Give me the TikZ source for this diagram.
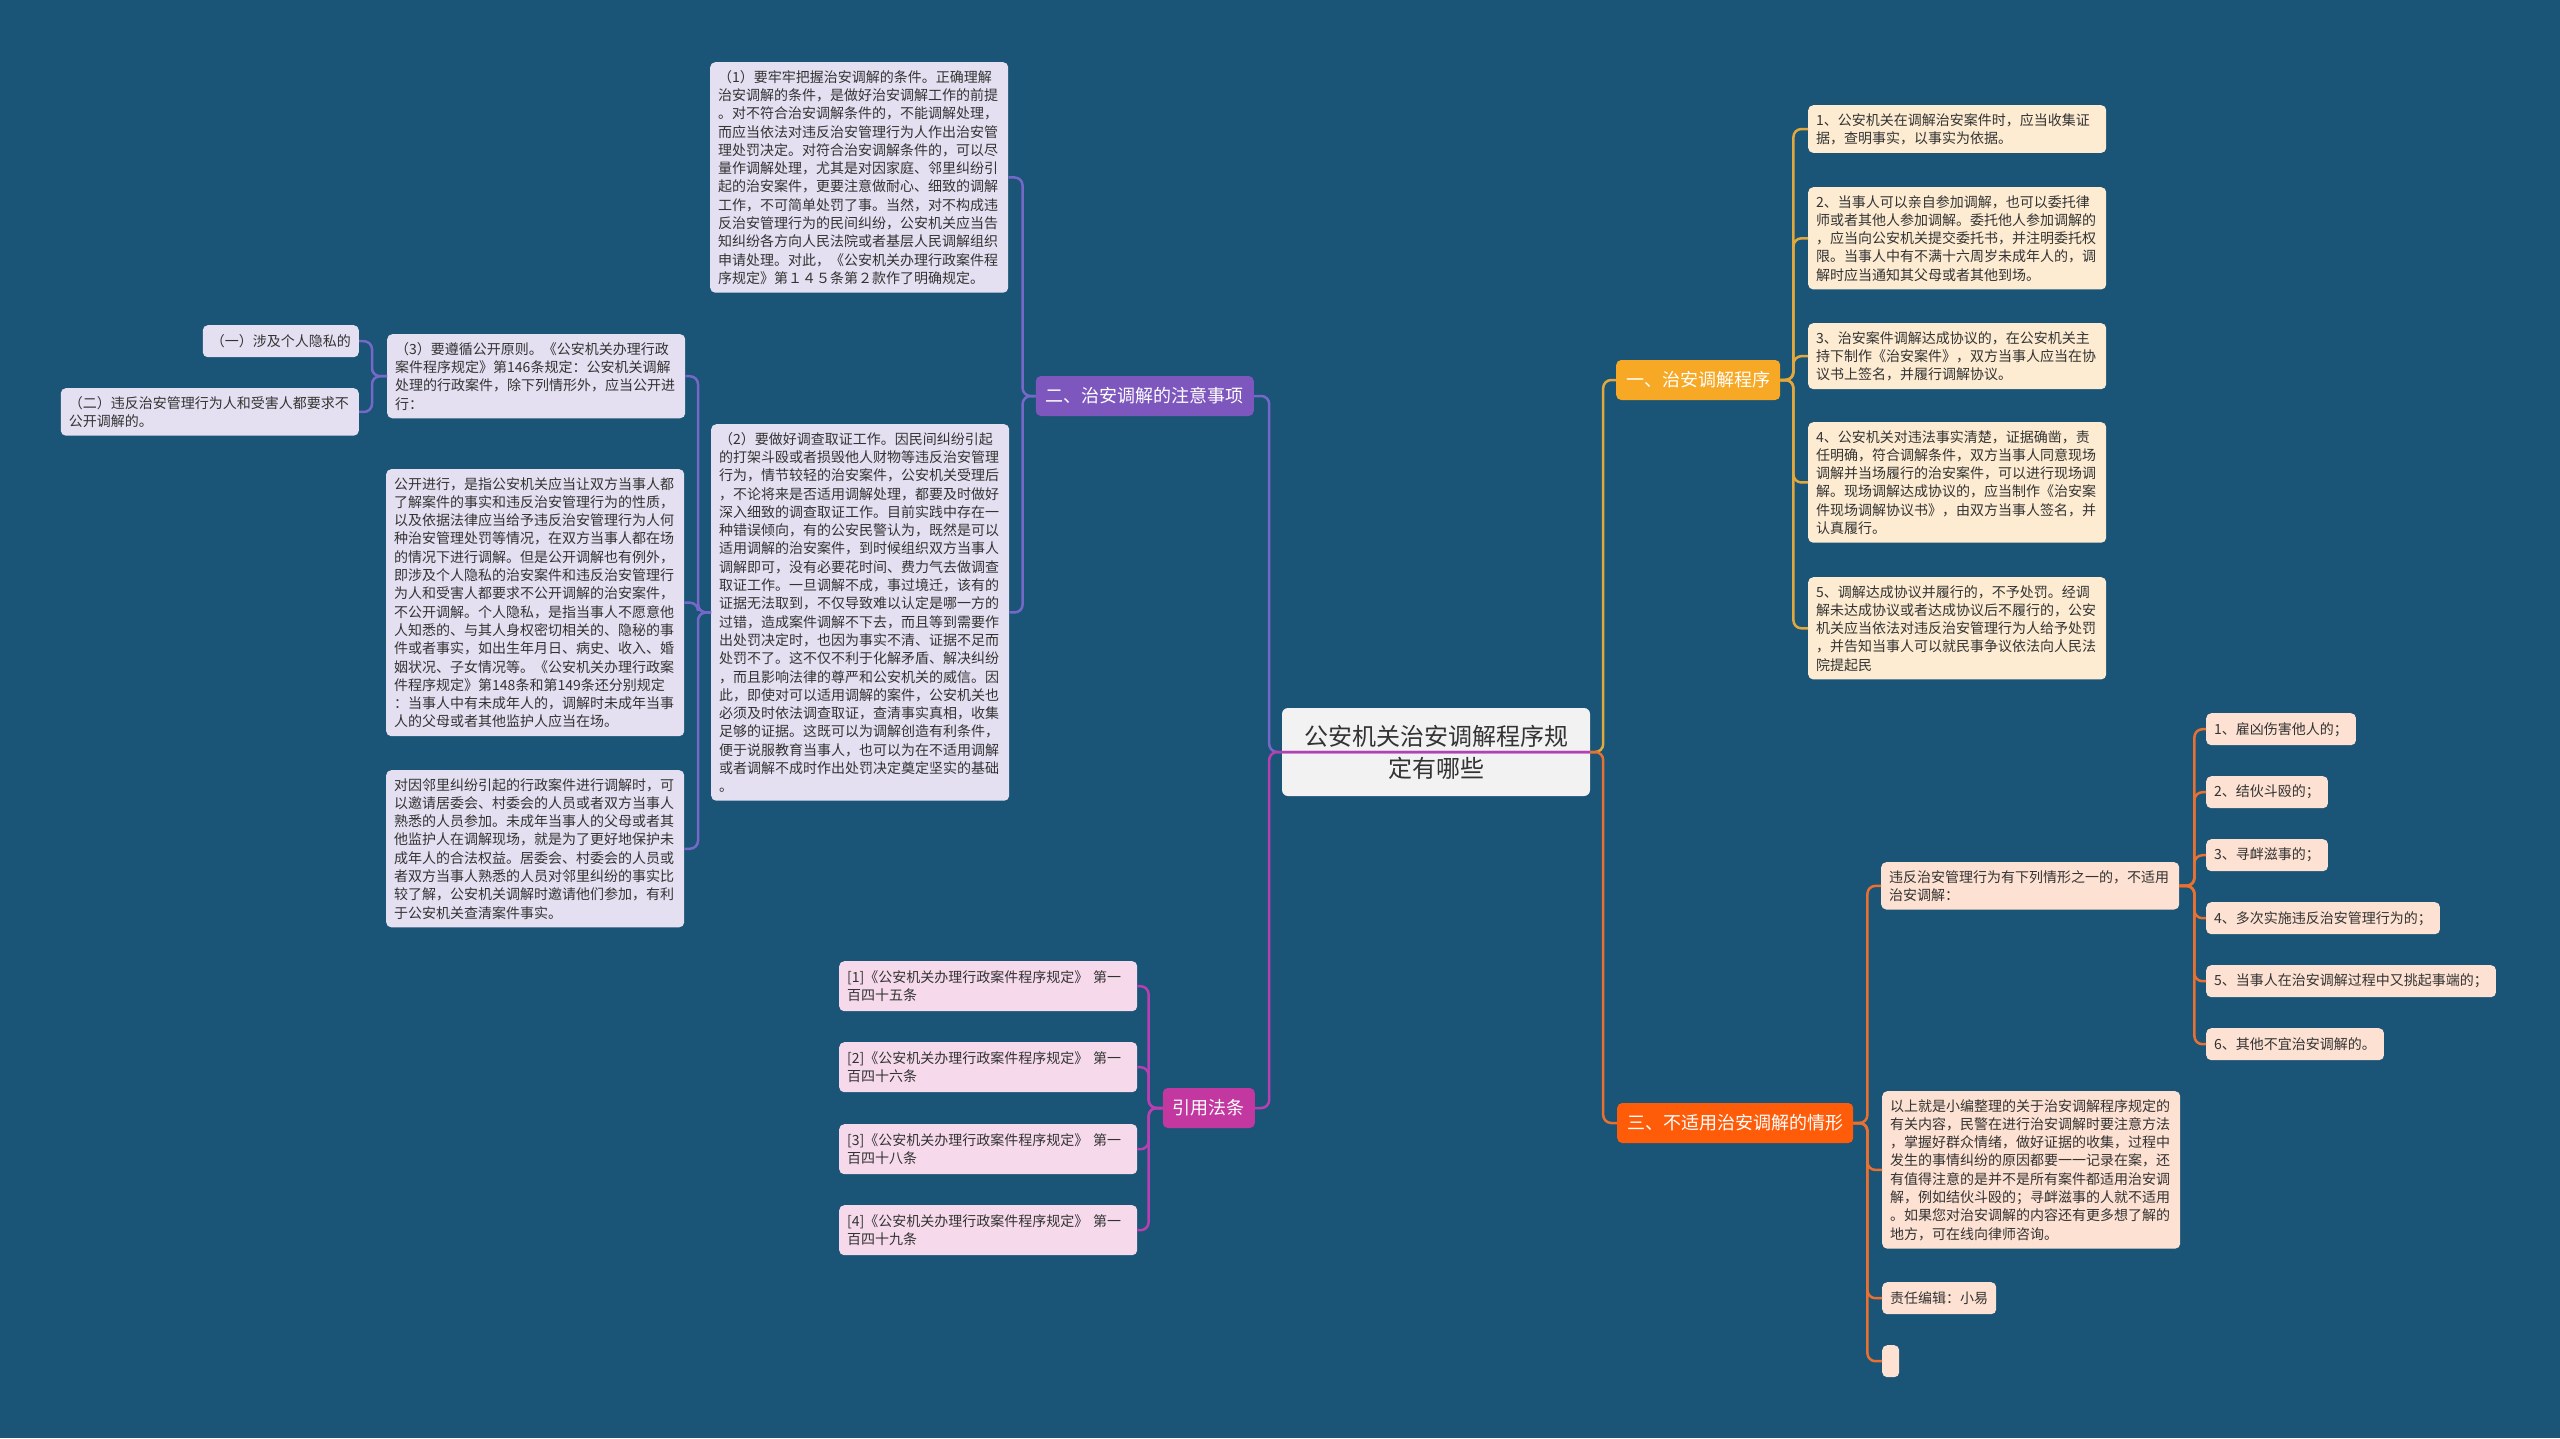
\documentclass[tikz,border=0pt]{standalone}
\usepackage{fontspec}
\usepackage{tikz}
\usetikzlibrary{positioning}
\newfontfamily\cjk{Noto Sans CJK SC}

\definecolor{bgblue}{RGB}{26,84,118}
\definecolor{purpnode}{RGB}{126,87,190}
\definecolor{purpline}{RGB}{118,104,200}
\definecolor{purpfill}{RGB}{228,224,241}
\definecolor{magnode}{RGB}{194,56,160}
\definecolor{magline}{RGB}{184,62,178}
\definecolor{magfill}{RGB}{246,218,236}
\definecolor{goldnode}{RGB}{247,168,36}
\definecolor{goldline}{RGB}{226,168,60}
\definecolor{goldfill}{RGB}{253,236,210}
\definecolor{orgnode}{RGB}{255,92,10}
\definecolor{orgline}{RGB}{232,112,48}
\definecolor{orgfill}{RGB}{253,225,210}
\definecolor{rootfill}{RGB}{242,242,242}
\definecolor{inktext}{RGB}{51,51,51}

\newcommand{\txtsize}{\fontsize{14}{18.3}\selectfont}

\begin{document}
\begin{tikzpicture}
[x=1pt,y=-1pt]

    \tikzstyle{every node}=[font=\cjk\txtsize, text=inktext]
    \tikzstyle{leaf}=[rounded corners=5pt, align=left, inner xsep=8pt,
                      inner ysep=8pt, anchor=north west]
    \tikzstyle{wide}=[leaf, text width=282pt]
    \tikzstyle{tiny}=[leaf, minimum height=32pt]
    \tikzstyle{branch}=[rounded corners=5pt, text=white, inner xsep=10pt,
                        minimum height=40pt, font=\cjk\fontsize{18}{22}\selectfont]
    \tikzstyle{link}=[line width=2.5pt, rounded corners=8pt]

    \useasboundingbox (0,0) rectangle (2560,1438);
    \fill[bgblue] (0,0) rectangle (2560,1438);

    % the middle of the map
    \node[rounded corners=6pt, fill=rootfill, align=center, minimum width=308pt,
          minimum height=88pt, font=\cjk\fontsize{24}{32}\selectfont] (root)
          at (1436,752) {公安机关治安调解程序规\\定有哪些};

    % left side: 二、
    \node[branch, fill=purpnode, anchor=east] (b2) at (1254,396) {二、治安调解的注意事项};

    \node[wide, fill=purpfill] (b2a) at (710,62) {（1）要牢牢把握治安调解的条件。正确理解\\治安调解的条件，是做好治安调解工作的前提\\。对不符合治安调解条件的，不能调解处理，\\而应当依法对违反治安管理行为人作出治安管\\理处罚决定。对符合治安调解条件的，可以尽\\量作调解处理，尤其是对因家庭、邻里纠纷引\\起的治安案件，更要注意做耐心、细致的调解\\工作，不可简单处罚了事。当然，对不构成违\\反治安管理行为的民间纠纷，公安机关应当告\\知纠纷各方向人民法院或者基层人民调解组织\\申请处理。对此，《公安机关办理行政案件程\\序规定》第１４５条第２款作了明确规定。};

    \node[wide, fill=purpfill] (b2b) at (711,424) {（2）要做好调查取证工作。因民间纠纷引起\\的打架斗殴或者损毁他人财物等违反治安管理\\行为，情节较轻的治安案件，公安机关受理后\\，不论将来是否适用调解处理，都要及时做好\\深入细致的调查取证工作。目前实践中存在一\\种错误倾向，有的公安民警认为，既然是可以\\适用调解的治安案件，到时候组织双方当事人\\调解即可，没有必要花时间、费力气去做调查\\取证工作。一旦调解不成，事过境迁，该有的\\证据无法取到，不仅导致难以认定是哪一方的\\过错，造成案件调解不下去，而且等到需要作\\出处罚决定时，也因为事实不清、证据不足而\\处罚不了。这不仅不利于化解矛盾、解决纠纷\\，而且影响法律的尊严和公安机关的威信。因\\此，即使对可以适用调解的案件，公安机关也\\必须及时依法调查取证，查清事实真相，收集\\足够的证据。这既可以为调解创造有利条件，\\便于说服教育当事人，也可以为在不适用调解\\或者调解不成时作出处罚决定奠定坚实的基础\\。};

    \node[wide, fill=purpfill] (c3) at (387,334) {（3）要遵循公开原则。《公安机关办理行政\\案件程序规定》第146条规定：公安机关调解\\处理的行政案件，除下列情形外，应当公开进\\行：};

    \node[wide, fill=purpfill] (c4) at (386,469) {公开进行，是指公安机关应当让双方当事人都\\了解案件的事实和违反治安管理行为的性质，\\以及依据法律应当给予违反治安管理行为人何\\种治安管理处罚等情况，在双方当事人都在场\\的情况下进行调解。但是公开调解也有例外，\\即涉及个人隐私的治安案件和违反治安管理行\\为人和受害人都要求不公开调解的治安案件，\\不公开调解。个人隐私，是指当事人不愿意他\\人知悉的、与其人身权密切相关的、隐秘的事\\件或者事实，如出生年月日、病史、收入、婚\\姻状况、子女情况等。《公安机关办理行政案\\件程序规定》第148条和第149条还分别规定\\：当事人中有未成年人的，调解时未成年当事\\人的父母或者其他监护人应当在场。};

    \node[wide, fill=purpfill] (c5) at (386,770) {对因邻里纠纷引起的行政案件进行调解时，可\\以邀请居委会、村委会的人员或者双方当事人\\熟悉的人员参加。未成年当事人的父母或者其\\他监护人在调解现场，就是为了更好地保护未\\成年人的合法权益。居委会、村委会的人员或\\者双方当事人熟悉的人员对邻里纠纷的事实比\\较了解，公安机关调解时邀请他们参加，有利\\于公安机关查清案件事实。};

    \node[tiny, fill=purpfill, anchor=north east] (c31) at (359,325) {（一）涉及个人隐私的};
    \node[wide, fill=purpfill, anchor=north east] (c32) at (359,388) {（二）违反治安管理行为人和受害人都要求不\\公开调解的。};

    % left side: 引用法条
    \node[branch, fill=magnode, anchor=east] (law) at (1255,1108) {引用法条};

    \node[wide, fill=magfill, minimum height=50pt] (l1) at (839,961) {[1]《公安机关办理行政案件程序规定》 第一\\百四十五条};
    \node[wide, fill=magfill, minimum height=50pt] (l2) at (839,1042) {[2]《公安机关办理行政案件程序规定》 第一\\百四十六条};
    \node[wide, fill=magfill, minimum height=50pt] (l3) at (839,1124) {[3]《公安机关办理行政案件程序规定》 第一\\百四十八条};
    \node[wide, fill=magfill, minimum height=50pt] (l4) at (839,1205) {[4]《公安机关办理行政案件程序规定》 第一\\百四十九条};

    % right side: 一、
    \node[branch, fill=goldnode, anchor=west] (b1) at (1616,380) {一、治安调解程序};

    \node[wide, fill=goldfill] (r1) at (1808,105) {1、公安机关在调解治安案件时，应当收集证\\据，查明事实，以事实为依据。};
    \node[wide, fill=goldfill] (r2) at (1808,187) {2、当事人可以亲自参加调解，也可以委托律\\师或者其他人参加调解。委托他人参加调解的\\，应当向公安机关提交委托书，并注明委托权\\限。当事人中有不满十六周岁未成年人的，调\\解时应当通知其父母或者其他到场。};
    \node[wide, fill=goldfill] (r3) at (1808,323) {3、治安案件调解达成协议的，在公安机关主\\持下制作《治安案件》，双方当事人应当在协\\议书上签名，并履行调解协议。};
    \node[wide, fill=goldfill] (r4) at (1808,422) {4、公安机关对违法事实清楚，证据确凿，责\\任明确，符合调解条件，双方当事人同意现场\\调解并当场履行的治安案件，可以进行现场调\\解。现场调解达成协议的，应当制作《治安案\\件现场调解协议书》，由双方当事人签名，并\\认真履行。};
    \node[wide, fill=goldfill] (r5) at (1808,577) {5、调解达成协议并履行的，不予处罚。经调\\解未达成协议或者达成协议后不履行的，公安\\机关应当依法对违反治安管理行为人给予处罚\\，并告知当事人可以就民事争议依法向人民法\\院提起民};

    % right side: 三、
    \node[branch, fill=orgnode, anchor=west] (b3) at (1617,1123) {三、不适用治安调解的情形};

    \node[wide, fill=orgfill] (b3a) at (1881,862) {违反治安管理行为有下列情形之一的，不适用\\治安调解：};
    \node[wide, fill=orgfill] (b3b) at (1882,1091) {以上就是小编整理的关于治安调解程序规定的\\有关内容，民警在进行治安调解时要注意方法\\，掌握好群众情绪，做好证据的收集，过程中\\发生的事情纠纷的原因都要一一记录在案，还\\有值得注意的是并不是所有案件都适用治安调\\解，例如结伙斗殴的；寻衅滋事的人就不适用\\。如果您对治安调解的内容还有更多想了解的\\地方，可在线向律师咨询。};
    \node[tiny, fill=orgfill] (b3c) at (1882,1282) {责任编辑：小易};
    \node[tiny, fill=orgfill, minimum width=17pt, inner xsep=0pt] (b3d) at (1882,1345) {};

    \node[tiny, fill=orgfill] (q1) at (2206,713) {1、雇凶伤害他人的；};
    \node[tiny, fill=orgfill] (q2) at (2206,776) {2、结伙斗殴的；};
    \node[tiny, fill=orgfill] (q3) at (2206,839) {3、寻衅滋事的；};
    \node[tiny, fill=orgfill] (q4) at (2206,902) {4、多次实施违反治安管理行为的；};
    \node[tiny, fill=orgfill] (q5) at (2206,965) {5、当事人在治安调解过程中又挑起事端的；};
    \node[tiny, fill=orgfill] (q6) at (2206,1028) {6、其他不宜治安调解的。};

    % connectors
    \draw[link, purpline] (root.east) -- ++(-321,0) |- (b2.east);
    \foreach \k in {b2a,b2b}
        \draw[link, purpline] (b2.west) -- ++(-13,0) |- (\k.east);
    \foreach \k in {c3,c4,c5}
        \draw[link, purpline] (b2b.west) -- ++(-13,0) |- (\k.east);
    \foreach \k in {c31,c32}
        \draw[link, purpline] (c3.west) -- ++(-15,0) |- (\k.east);

    \draw[link, magline] (root.east) -- ++(-321,0) |- (law.east);
    \foreach \k in {l1,l2,l3,l4}
        \draw[link, magline] (law.west) -- ++(-14,0) |- (\k.east);

    \draw[link, goldline] (root.east) -- ++(13,0) |- (b1.west);
    \foreach \k in {r1,r2,r3,r4,r5}
        \draw[link, goldline] (b1.east) -- ++(13,0) |- (\k.west);

    \draw[link, orgline] (root.east) -- ++(13,0) |- (b3.west);
    \foreach \k in {b3a,b3b,b3c,b3d}
        \draw[link, orgline] (b3.east) -- ++(14,0) |- (\k.west);
    \foreach \k in {q1,q2,q3,q4,q5,q6}
        \draw[link, orgline] (b3a.east) -- ++(15,0) |- (\k.west);

\end{tikzpicture}
\end{document}
